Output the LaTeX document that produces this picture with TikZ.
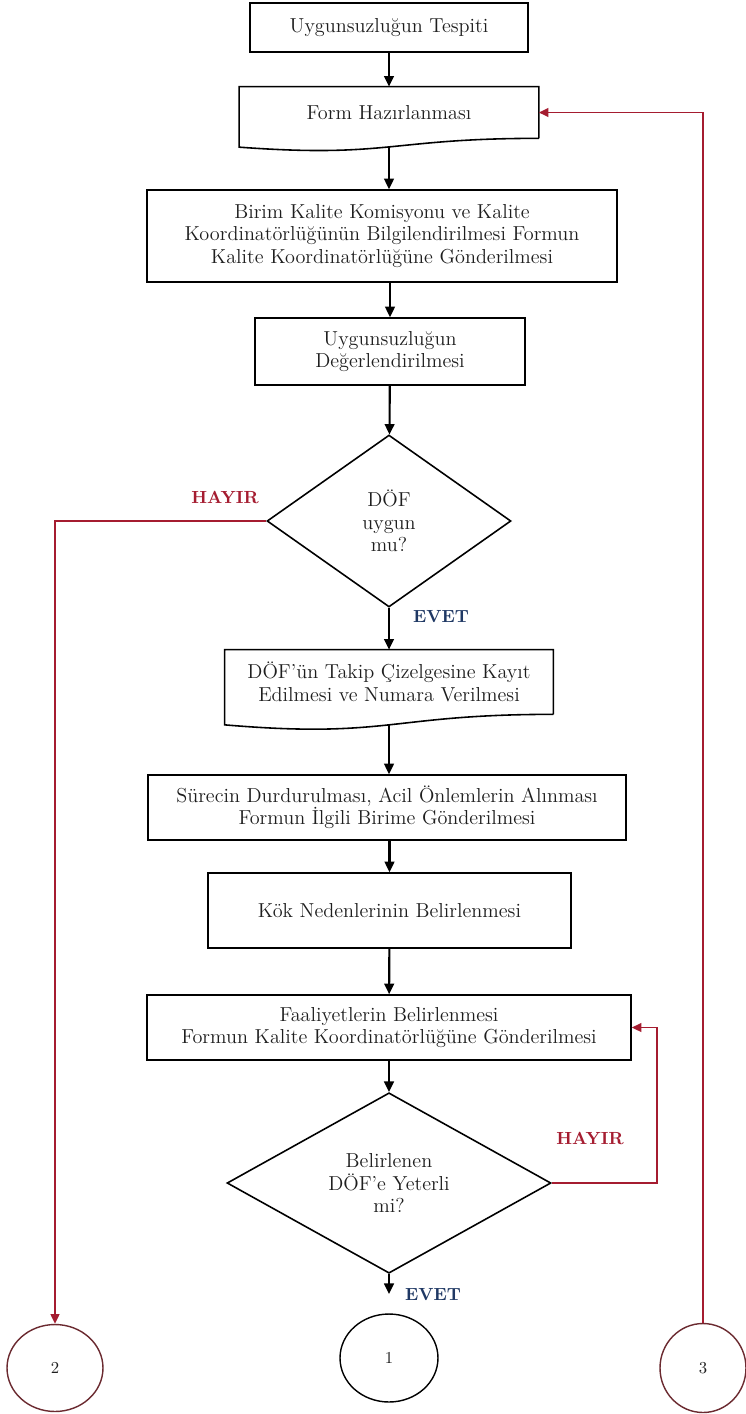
\documentclass[tikz,border=0pt]{standalone}
\usepackage{fontspec}
\usetikzlibrary{shapes.geometric,arrows.meta,calc}
\definecolor{rl}{HTML}{A51C30}
\definecolor{ev}{HTML}{1F3864}
\definecolor{tx}{HTML}{1E1E1E}
\definecolor{cr}{HTML}{6B2A30}
\newcommand{\txtfont}{\fontsize{11.5}{12.8}\selectfont}
\begin{document}
\begin{tikzpicture}[x=0.02cm,y=-0.02cm,
 boxline/.style={draw=black,line width=0.9pt},
 pbox/.style={boxline,rectangle,align=center,inner sep=0pt,font=\txtfont,text=tx},
 docbox/.style={rectangle,align=center,inner sep=0pt,font=\txtfont,text=tx},
 dec/.style={boxline,diamond,align=center,inner sep=0pt,font=\txtfont,text=tx},
 conn/.style={ellipse,line width=0.8pt,inner sep=0pt,font=\fontsize{9.5}{11}\selectfont,text=tx},
 arr/.style={line width=1.2pt,-{Triangle[length=6pt,width=5.5pt]}},
 rarr/.style={draw=rl,line width=1pt,-{Triangle[length=5.5pt,width=5pt]}},
 nolab/.style={font=\bfseries\fontsize{10}{12}\selectfont,text=rl},
 yeslab/.style={font=\bfseries\fontsize{10}{12}\selectfont,text=ev}]

\useasboundingbox (0,0) rectangle (746,1414);
\fill[white] (0,0) rectangle (746,1414);

% process boxes
\node[pbox,minimum width=5.56cm,minimum height=0.98cm] (b1) at (389,27.5) {Uygunsuzluğun Tespiti};

\node[docbox,minimum width=5.98cm,minimum height=1.02cm] (form) at (389,112.5) {Form Hazırlanması};
\draw[boxline] (form.south east) -- (form.north east) -- (form.north west)
  -- ([yshift=-0.176cm]form.south west)
  .. controls ([yshift=-0.398cm]form.south) and (form.south) .. (form.south east);
\coordinate (formb) at ([yshift=-0.174cm]form.south);

\node[pbox,minimum width=9.4cm,minimum height=1.84cm] (b3) at (382,236)
 {Birim Kalite Komisyonu ve Kalite\\Koordinatörlüğünün Bilgilendirilmesi Formun\\Kalite Koordinatörlüğüne Gönderilmesi};

\node[pbox,minimum width=5.4cm,minimum height=1.34cm] (b4) at (390,351.5)
 {Uygunsuzluğun\\Değerlendirilmesi};

\node[dec,minimum width=4.88cm,minimum height=3.44cm] (d1) at (389,521) {DÖF\\uygun\\mu?};

\node[docbox,minimum width=6.56cm,minimum height=1.28cm] (dof) at (389,682)
 {DÖF’ün Takip Çizelgesine Kayıt\\Edilmesi ve Numara Verilmesi};
\draw[boxline] (dof.south east) -- (dof.north east) -- (dof.north west)
  -- ([yshift=-0.21cm]dof.south west)
  .. controls ([yshift=-0.49cm]dof.south) and (dof.south) .. (dof.south east);
\coordinate (dofb) at ([yshift=-0.21cm]dof.south);

\node[pbox,minimum width=9.56cm,minimum height=1.3cm] (b5) at (387,807.5)
 {Sürecin Durdurulması, Acil Önlemlerin Alınması\\Formun İlgili Birime Gönderilmesi};

\node[pbox,minimum width=7.26cm,minimum height=1.5cm] (b6) at (389.5,910.5)
 {Kök Nedenlerinin Belirlenmesi};

\node[pbox,minimum width=9.68cm,minimum height=1.3cm] (b7) at (389,1027.5)
 {Faaliyetlerin Belirlenmesi\\Formun Kalite Koordinatörlüğüne Gönderilmesi};

\node[dec,minimum width=6.48cm,minimum height=3.4cm] (d2) at (389,1183)
 {Belirlenen\\DÖF’e Yeterli\\mi?};

% connectors (off-page)
\node[conn,draw=black,minimum width=1.96cm,minimum height=1.76cm] (c1) at (389,1358) {1};
\node[conn,draw=cr,minimum width=1.92cm,minimum height=1.74cm] (c2) at (55,1368) {2};
\node[conn,draw=cr,minimum width=1.72cm,minimum height=1.78cm] (c3) at (703,1368) {3};

% labels
\node[nolab] (h1) at (225,497) {HAYIR};
\node[yeslab] (e1) at (441,617) {EVET};
\node[nolab] (h2) at (590,1138) {HAYIR};
\node[yeslab] (e2) at (433,1295) {EVET};

% black flow arrows
\draw[arr] (b1) -- (form);
\draw[arr] (formb) -- (formb |- b3.north);
\draw[arr] (b3.south -| b4) -- (b4);
\draw[arr] (b4) -- (d1);
\draw[arr] (d1) -- (dof);
\draw[arr] (dofb) -- (dofb |- b5.north);
\draw[arr] (b5.south -| b6) -- (b6);
\draw[arr] (b6) -- (b7);
\draw[arr] (b7) -- (d2);
\draw[arr,shorten >=11pt] (d2) -- (c1);

% red loops
\draw[rarr] (d1.west) -| (c2.north);
\draw[rarr] (d2.east) -- ++(105,0) |- (b7.east);
\draw[rarr] (c3.north) |- (form.east);
\end{tikzpicture}
\end{document}
